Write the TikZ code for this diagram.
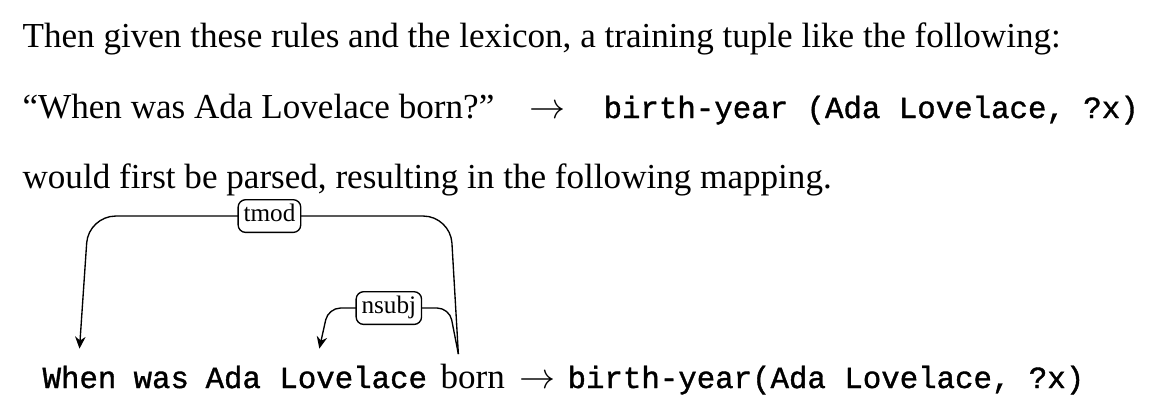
\documentclass[tikz,border=0pt]{standalone}
\usepackage{fontspec}
\setmainfont{Liberation Serif}
\setmonofont[FakeBold=1.2]{Liberation Mono}
\usetikzlibrary{calc,arrows.meta}

\tikzset{
  txt/.style={anchor=base west,inner sep=0pt,font=\fontsize{11.7}{14}\selectfont},
  code/.style={txt,font=\ttfamily\fontsize{10.25}{12}\selectfont},
  lbl/.style={draw,fill=white,rounded corners=2.5pt,inner sep=1.8pt,
    text height=5.6pt,text depth=1.7pt,font=\fontsize{8.4}{9}\selectfont},
  dep/.style={draw,line width=0.45pt,-{Stealth[length=4pt,width=3.5pt]}},
}

\begin{document}
\begin{tikzpicture}[x=0.3333pt,y=-0.3333pt]
\useasboundingbox (0,0) rectangle (1168,412);

% Text Node
\node[txt] (line1) at (22,47) {Then given these rules and the lexicon, a training tuple like the following:};
% Text Node
\node[txt] (question) at (22,118) {“When was Ada Lovelace born?”};
\node[txt,anchor=base] (maps) at (548,118) {$\rightarrow$};
\node[code] (query) at (603,118) {birth-year (Ada Lovelace, ?x)};
% Text Node
\node[txt] (line3) at (22,188) {would first be parsed, resulting in the following mapping.};

% Words
\node[code] (when) at (42,388) {When};
\node[code] (was) at (133,388) {was};
\node[code] (ada) at (205,388) {Ada Lovelace};
\node[txt] (born) at (440,388) {born};
\node[txt,anchor=base] (to) at (537,388) {$\rightarrow$};
\node[code] (out) at (567,388) {birth-year(Ada Lovelace, ?x)};

% arc ends
\coordinate (bornT) at ([xshift=-4.8pt,yshift=3pt]born.north);
\coordinate (whenT) at ([yshift=5.5pt]when.north);
\coordinate (adaT) at ([xshift=1pt,yshift=5.5pt]ada.north);
\coordinate (tmodR) at ($(bornT)+(-8,-138)$);
\coordinate (tmodL) at ($(whenT)+(9,0)$);
\coordinate (nsubjR) at ($(bornT)+(-9,-46)$);
\coordinate (nsubjL) at ($(adaT)+(9,0)$);

%Curve Lines tmod
\draw[dep,rounded corners=9pt] (bornT) -- (tmodR) -- node[lbl,midway]{tmod} (tmodL |- tmodR) -- (whenT);
%Curve Lines nsubj
\draw[dep,rounded corners=4pt] (bornT) -- (nsubjR) -- node[lbl,midway]{nsubj} (nsubjL |- nsubjR) -- (adaT);

\end{tikzpicture}
\end{document}
